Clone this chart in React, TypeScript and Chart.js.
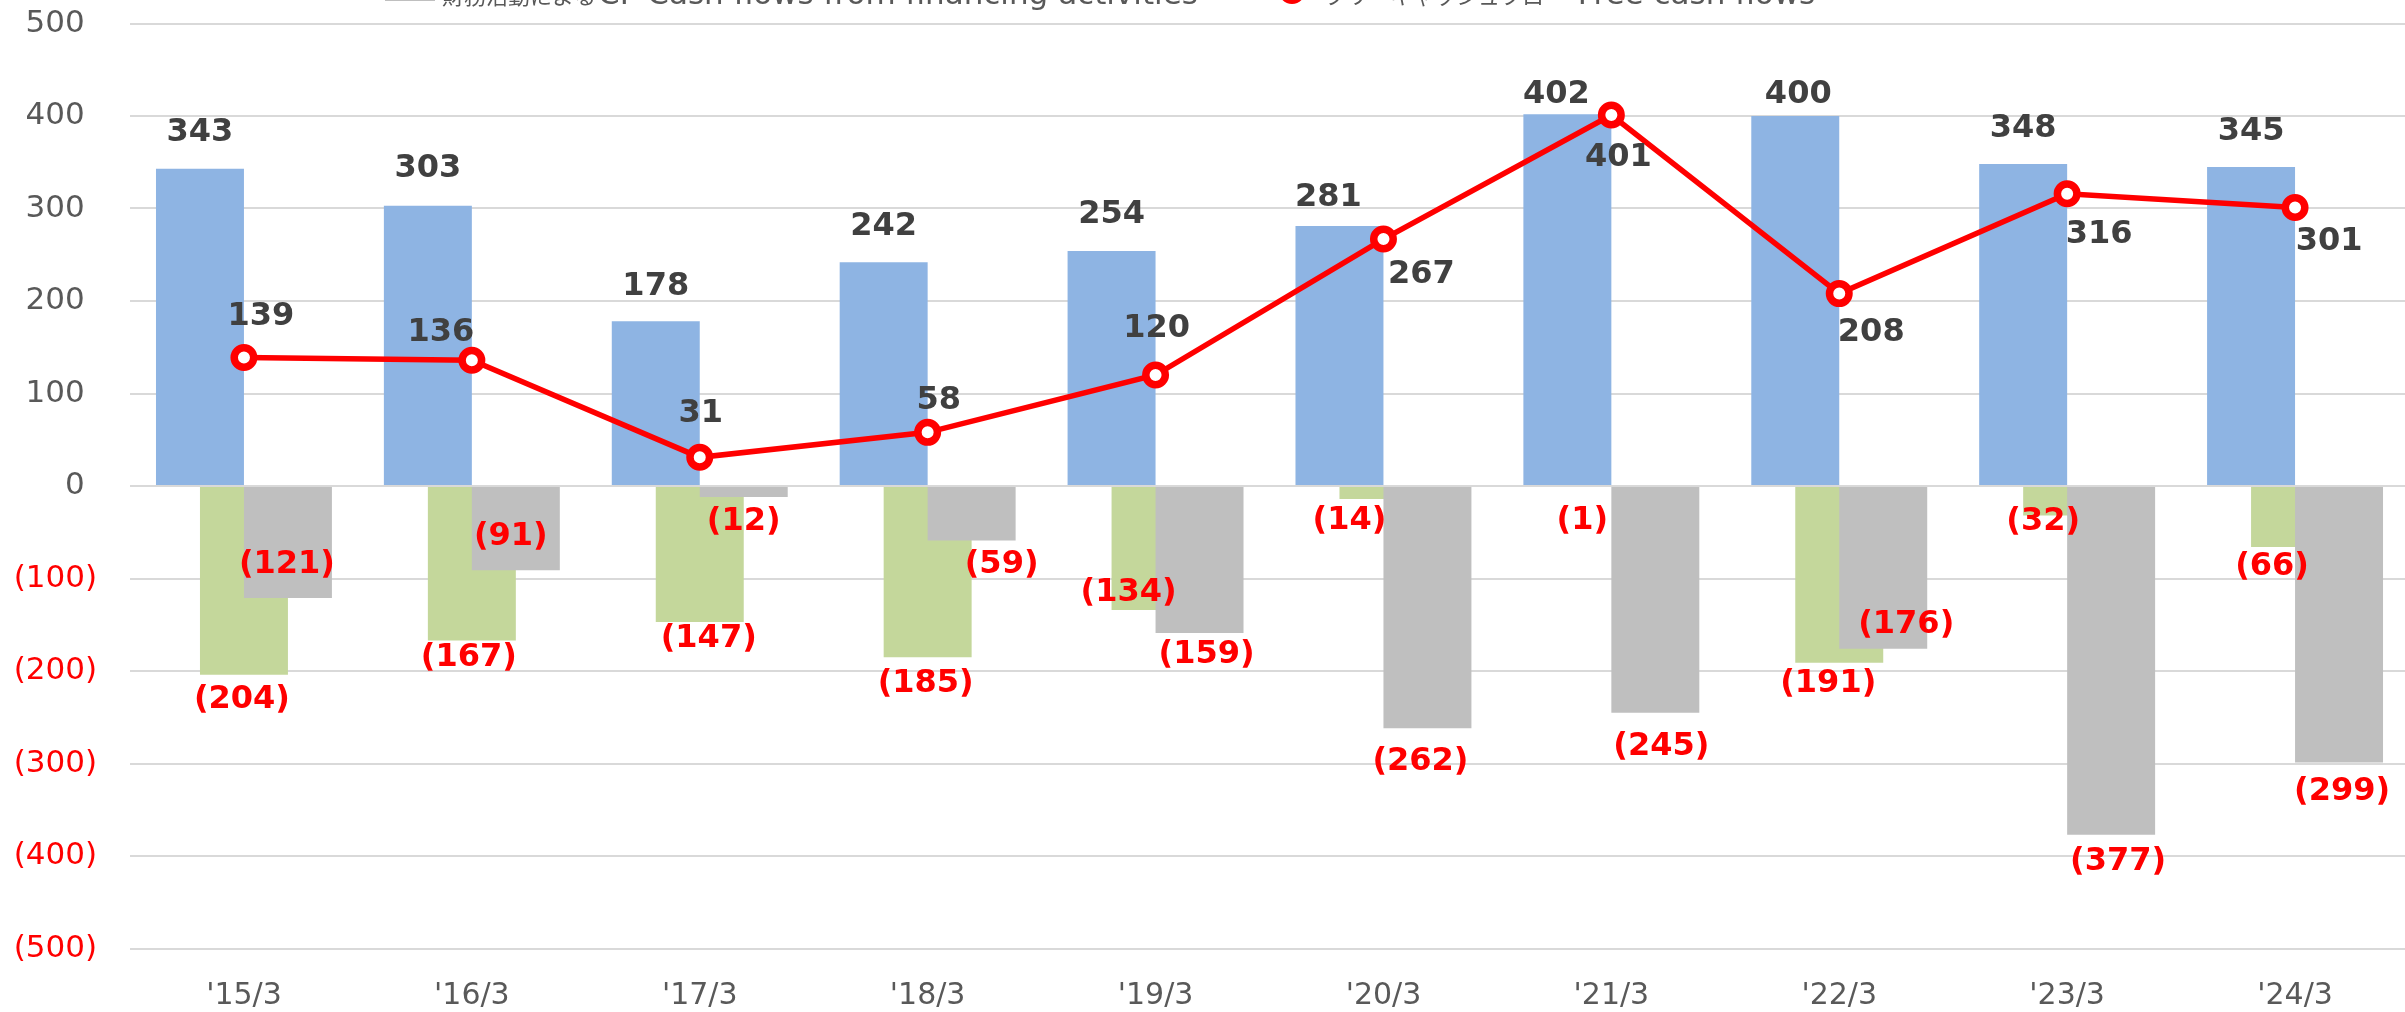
import React, { useEffect, useRef } from "react";
import { Chart, registerables } from "chart.js";

Chart.register(...registerables);

// ---- data ----
const categories = ["'15/3", "'16/3", "'17/3", "'18/3", "'19/3", "'20/3", "'21/3", "'22/3", "'23/3", "'24/3"];
const operatingCF = [343, 303, 178, 242, 254, 281, 402, 400, 348, 345];
const investingCF = [-204, -167, -147, -185, -134, -14, -1, -191, -32, -66];
const financingCF = [-121, -91, -12, -59, -159, -262, -245, -176, -377, -299];
const freeCF = [139, 136, 31, 58, 120, 267, 401, 208, 316, 301];

const seriesNames = [
  "営業活動によるCF Cash flows from operating activities",
  "投資活動によるCF Cash flows from investing activities",
  "財務活動によるCF Cash flows from financing activities",
  "フリーキャッシュフロー Free cash flows",
];

const yMin = -500;
const yMax = 500;
const yStep = 100;

// ---- label placement (pixel offsets from the bar end / point) ----
const opLabelOffset = [[0, -36], [0, -37], [0, -35], [0, -35], [0, -36], [-11, -28], [-11, -19], [3, -21], [0, -35], [0, -35]];
const invLabelOffset = [[-2, 25], [-3, 17], [9, 17], [-2, 27], [-27, -17], [-34, 22], [-29, 34], [-11, 21], [-24, 6], [-23, 20]];
const finLabelOffset = [[-1, -33], [-5, -33], [0, 25], [30, 24], [7, 22], [-7, 33], [6, 34], [23, -24], [7, 27], [3, 29]];
const fcfLabelOffset = [[17, -41], [-31, -28], [1, -44], [11, -32], [1, -46], [38, 36], [7, 43], [32, 39], [32, 41], [34, 34]];

// ---- styles ----
const BLUE = "#8EB4E3";
const GREEN = "#C4D79B";
const GRAY = "#BFBFBF";
const RED = "#FF0000";
const DARK = "#404040";
const AXIS_TEXT = "#595959";
const GRID = "#D9D9D9";

const fmt = (v: number) => (v < 0 ? `(${Math.abs(v)})` : `${v}`);

const labelSets = [
  { ds: 0, offsets: opLabelOffset },
  { ds: 1, offsets: invLabelOffset },
  { ds: 2, offsets: finLabelOffset },
  { ds: 3, offsets: fcfLabelOffset },
];

const drawPlugin = {
  id: "customDraw",
  beforeDatasetsDraw(chart: any) {
    // bars left-to-right in series order, later series drawn on top, line topmost
    for (let i = 0; i < chart.data.datasets.length; i++) {
      const meta = chart.getDatasetMeta(i);
      if (meta && !meta.hidden) meta.controller.draw();
    }
    const ctx = chart.ctx as CanvasRenderingContext2D;
    ctx.save();
    ctx.font = "bold 32px 'DejaVu Sans'";
    ctx.textAlign = "center";
    ctx.textBaseline = "middle";
    labelSets.forEach(({ ds, offsets }) => {
      const meta = chart.getDatasetMeta(ds);
      const values = chart.data.datasets[ds].data as number[];
      meta.data.forEach((el: any, j: number) => {
        const v = values[j];
        const [dx, dy] = offsets[j];
        ctx.fillStyle = v < 0 ? RED : DARK;
        ctx.fillText(fmt(v), el.x + dx, el.y + dy);
      });
    });
    ctx.restore();
    return false;
  },
  afterDraw(chart: any) {
    // legend (two rows; the first row lies above the visible area)
    const ctx = chart.ctx as CanvasRenderingContext2D;
    ctx.save();
    ctx.textBaseline = "alphabetic";
    ctx.textAlign = "left";
    const rows = [
      { y: -36, items: [{ i: 0, kind: "box", color: BLUE, x: 385 }, { i: 1, kind: "box", color: GREEN, x: 1267 }] },
      { y: 4, items: [{ i: 2, kind: "box", color: GRAY, x: 385 }, { i: 3, kind: "line", color: RED, x: 1267 }] },
    ];
    rows.forEach((row) => {
      row.items.forEach((it) => {
        const cy = row.y - 13.5;
        if (it.kind === "box") {
          ctx.fillStyle = it.color;
          ctx.fillRect(it.x, row.y - 16, 50, 13);
        } else {
          ctx.strokeStyle = it.color;
          ctx.lineWidth = 5;
          ctx.beginPath();
          ctx.moveTo(it.x, cy);
          ctx.lineTo(it.x + 50, cy);
          ctx.stroke();
          ctx.beginPath();
          ctx.arc(it.x + 25, cy, 9.75, 0, Math.PI * 2);
          ctx.fillStyle = "#FFFFFF";
          ctx.fill();
          ctx.lineWidth = 7.5;
          ctx.stroke();
        }
        const name = seriesNames[it.i];
        const m = name.match(/^([^\x00-\x7F]+)(.*)$/);
        const jp = m ? m[1] : "";
        const en = m ? m[2] : name;
        let x = it.x + 57;
        ctx.fillStyle = AXIS_TEXT;
        ctx.font = "22px 'Noto Sans CJK JP'";
        ctx.fillText(jp, x, row.y);
        x += ctx.measureText(jp).width + 2;
        ctx.font = "31px 'DejaVu Sans'";
        ctx.fillText(en, x, row.y);
      });
    });
    ctx.restore();
  },
};

export default function App() {
  const ref = useRef<HTMLCanvasElement>(null);

  useEffect(() => {
    const canvas = ref.current;
    if (!canvas) return;
    const barCommon = { categoryPercentage: 0.579, barPercentage: 2, borderWidth: 0 };
    const chart = new Chart(canvas, {
      type: "bar",
      data: {
        labels: categories,
        datasets: [
          { type: "bar", label: seriesNames[0], data: operatingCF, backgroundColor: BLUE, ...barCommon },
          { type: "bar", label: seriesNames[1], data: investingCF, backgroundColor: GREEN, ...barCommon },
          { type: "bar", label: seriesNames[2], data: financingCF, backgroundColor: GRAY, ...barCommon },
          {
            type: "line",
            label: seriesNames[3],
            data: freeCF,
            borderColor: RED,
            borderWidth: 5.5,
            tension: 0,
            pointRadius: 9.75,
            pointBorderWidth: 7.5,
            pointBackgroundColor: "#FFFFFF",
            pointBorderColor: RED,
          },
        ] as any,
      },
      options: {
        animation: false,
        responsive: false,
        events: [],
        layout: { autoPadding: false, padding: { top: 23.5, right: 11, bottom: 0, left: 0 } },
        plugins: { legend: { display: false }, tooltip: { enabled: false } },
        scales: {
          x: {
            grid: { display: false, drawTicks: false },
            border: { display: false },
            ticks: {
              font: { family: "'DejaVu Sans'", size: 30 },
              color: AXIS_TEXT,
              padding: 30,
              maxRotation: 0,
              autoSkip: false,
            },
            afterFit: (s: any) => {
              s.height = 63.5;
            },
          },
          y: {
            min: yMin,
            max: yMax,
            ticks: {
              stepSize: yStep,
              callback: (v: any) => (Number(v) < 0 ? `(${Math.abs(Number(v))})` : `${v}\u2009\u2009`),
              color: (c: any) => (c.tick && c.tick.value < 0 ? RED : AXIS_TEXT),
              font: { family: "'DejaVu Sans'", size: 31 },
              padding: 33,
            },
            grid: { color: GRID, lineWidth: 2, drawTicks: false },
            border: { display: false },
            afterFit: (s: any) => {
              s.width = 130;
              s.paddingTop = 0;
              s.paddingBottom = 0;
            },
          },
        },
      } as any,
      plugins: [drawPlugin as any],
    });
    return () => chart.destroy();
  }, []);

  return (
    <div
      style={{
        position: "fixed",
        left: 0,
        top: 0,
        width: 2405,
        height: 1012,
        overflow: "hidden",
        background: "#FFFFFF",
      }}
    >
      <canvas ref={ref} width={2420} height={1012} style={{ display: "block", width: 2420, height: 1012 }} />
    </div>
  );
}
